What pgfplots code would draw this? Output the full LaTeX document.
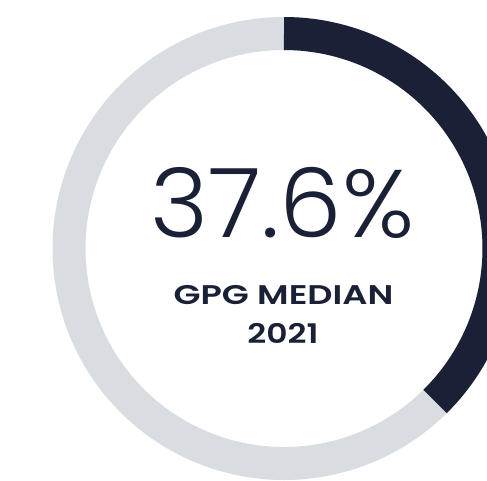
\documentclass[border=0pt]{standalone}
\usepackage{pgfplots}
\pgfplotsset{compat=1.18}
\usepackage{pgfplotstable}
\usepackage{fontspec}
\setmainfont{Poppins}
\newfontfamily\lightfont{Poppins Light}[FakeStretch=1.035]
\newfontfamily\semifont{Poppins SemiBold}[FakeStretch=1.3]
\newfontfamily\semifontb{Poppins SemiBold}[FakeStretch=1.22]
\definecolor{navy}{HTML}{1A2036}
\definecolor{ringgrey}{HTML}{D9DCE0}
\pgfplotstableread{
label value
GPG 37.6
}\donutdata
\pgfplotstablegetelem{0}{value}\of\donutdata
\let\gpgval\pgfplotsretval
\begin{document}
\begin{tikzpicture}
\begin{axis}[
  scale only axis, width=487pt, height=480pt,
  xmin=0, xmax=487, ymin=0, ymax=480, y dir=reverse,
  axis line style={draw=none}, ticks=none,
  axis background/.style={fill=white},
  clip=true,
]
\addplot[ringgrey, line width=33pt, domain=0:360, samples=361, line cap=butt]
  ({284+215*sin(x)},{248.5-215*cos(x)});
\addplot[navy, line width=33pt, domain=0:{\gpgval*3.6}, samples=200, line cap=butt]
  ({284+215*sin(x)},{248.5-215*cos(x)});
\node[anchor=base, text=navy, inner sep=0pt] at (axis cs:282.5,237)
  {\fontsize{96}{96}\selectfont\lightfont \gpgval\%};
\node[anchor=base, text=navy, inner sep=0pt] at (axis cs:283.5,304)
  {\fontsize{27}{27}\selectfont\semifont GPG MEDIAN};
\node[anchor=base, text=navy, inner sep=0pt] at (axis cs:283,343)
  {\fontsize{27}{27}\selectfont\semifontb 2021};
\end{axis}
\end{tikzpicture}
\end{document}
